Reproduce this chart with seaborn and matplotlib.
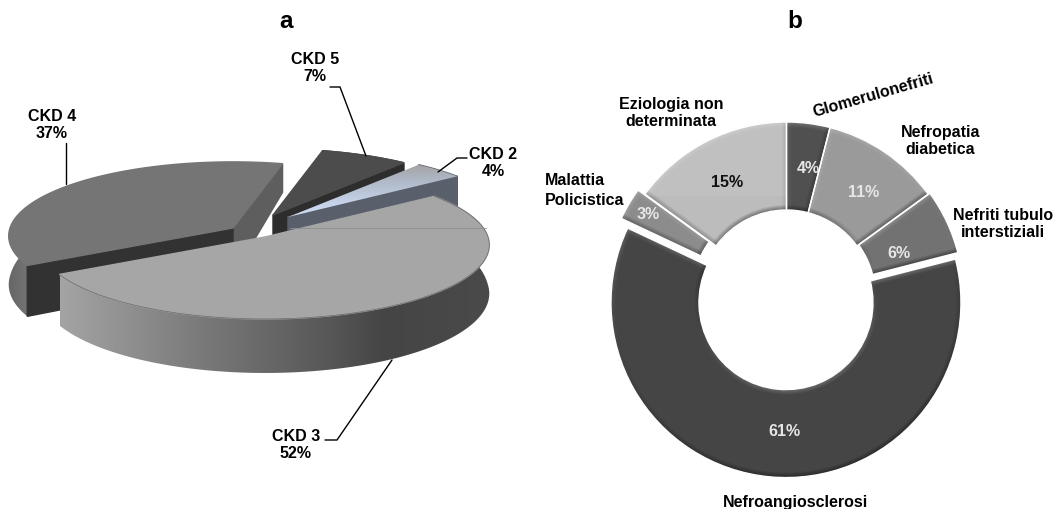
import numpy as np
import matplotlib
matplotlib.use("Agg")
import matplotlib.pyplot as plt
from matplotlib.collections import PolyCollection
from matplotlib.patches import Polygon, Rectangle
import seaborn as sns

# CKD stage distribution, in clockwise order
ckd_labels = ["CKD 5\n7%", "CKD 2\n4%", "CKD 3\n52%", "CKD 4\n37%"]
ckd_values = [7, 4, 52, 37]

# Renal disease aetiology, clockwise from twelve o'clock
cause_labels = ["Glomerulonefriti", "Nefropatia\ndiabetica", "Nefriti tubulo\ninterstiziali",
                "Nefroangiosclerosi", "Malattia\nPolicistica", "Eziologia non\ndeterminata"]
cause_values = [4, 11, 6, 61, 3, 15]
cause_colors = ["#505050", "#9a9a9a", "#727272", "#454545", "#8c8c8c", "#bcbcbc"]
cause_explode = [0, 0, 2, 5.6, 8, 0]
cause_text = ["#e6e6e6", "#e6e6e6", "#e6e6e6", "#e6e6e6", "#e6e6e6", "#111111"]
cause_pct_pos = [(808, 168), (864, 192), (899, 254), (784, 432), (648, 214), (727, 182)]

W, H = 1054, 509
sns.set_theme(style="white")
plt.rcParams["font.family"] = ["Liberation Sans", "DejaVu Sans"]
plt.rcParams["font.weight"] = "bold"

fig = plt.figure(figsize=(W / 100, H / 100), dpi=100)
ax = fig.add_axes([0, 0, 1, 1])


def yy(y):
    return H - np.asarray(y, dtype=float)


def gradient(poly, stops, extent, horizontal=False, zorder=1):
    """Paint a grey ramp clipped to a polygon; stops are (position, hex) pairs."""
    pos = np.array([s[0] for s in stops])
    rgb = np.array([matplotlib.colors.to_rgb(s[1]) for s in stops])
    t = np.linspace(pos[0], pos[-1], 256)
    ramp = np.stack([np.interp(t, pos, rgb[:, i]) for i in range(3)], axis=-1)
    img = ramp[np.newaxis, :, :] if horizontal else ramp[:, np.newaxis, :]
    patch = Polygon(poly, closed=True, transform=ax.transData, facecolor="none", edgecolor="none")
    ax.add_patch(patch)
    x0, x1, y0, y1 = extent
    im = ax.imshow(img, extent=(x0, x1, H - y1, H - y0), origin="upper" if not horizontal else "lower",
                   aspect="auto", zorder=zorder, interpolation="bilinear")
    im.set_clip_path(patch)


# --- panel a: exploded perspective pie ---
RX, RY, PERSP = 223.0, 73.2, 0.107
apexes = {"CKD 5": (273, 215), "CKD 2": (288, 217), "CKD 3": (265, 237), "CKD 4": (233, 228)}


def rim(apex, theta):
    th = np.radians(theta)
    u, v = np.cos(th), np.sin(th)
    den = 1 + PERSP * v
    return apex[0] + RX * u / den, apex[1] - RY * v / den


def depth(theta):
    v = np.sin(np.radians(theta))
    return 48 - 20 * v if v > 0 else 48 - 6 * v


def to_xy(points):
    pts = np.array(points, dtype=float)
    pts[:, 1] = H - pts[:, 1]
    return pts


def slice_shapes(apex, t_start, t_end):
    thetas = np.linspace(t_start, t_end, 120)
    arc = [rim(apex, t) for t in thetas]
    top = to_xy([apex] + arc)
    wall = to_xy(arc + [(x, y + depth(t)) for (x, y), t in zip(arc[::-1], thetas[::-1])])
    return thetas, arc, top, wall


def cut_face(apex, theta):
    p = rim(apex, theta)
    return to_xy([apex, p, (p[0], p[1] + depth(theta)), (apex[0], apex[1] + 48)])


edges = 75.8 - np.cumsum([0] + ckd_values) * 3.6
spans = {lab.split("\n")[0]: (edges[i], edges[i + 1]) for i, lab in enumerate(ckd_labels)}

# back slices first so that the large front slice overlaps them
s, e = spans["CKD 5"]
_, _, top, wall = slice_shapes(apexes["CKD 5"], s, e)
ax.add_patch(Polygon(wall, color="#333333", zorder=2))
ax.add_patch(Polygon(cut_face(apexes["CKD 5"], e), color="#2d2d2d", zorder=2))
ax.add_patch(Polygon(top, color="#4c4c4c", zorder=2))

s, e = spans["CKD 2"]
_, _, top, wall = slice_shapes(apexes["CKD 2"], s, e)
ax.add_patch(Polygon(wall, color="#565b66", zorder=3))
ax.add_patch(Polygon(cut_face(apexes["CKD 2"], e), color="#5a606b", zorder=3))
gradient(top, [(0, "#a3a3a3"), (0.25, "#aeb6c4"), (0.7, "#c5d3ea"), (1, "#d2ddf0")], (280, 460, 165, 220), zorder=3)

s, e = spans["CKD 4"]
_, _, top, wall = slice_shapes(apexes["CKD 4"], s, e)
gradient(wall, [(0, "#666666"), (1, "#7c7c7c")], (8, 40, 230, 320), horizontal=True, zorder=4)
ax.add_patch(Polygon(cut_face(apexes["CKD 4"], e), color="#5e5e5e", zorder=4))
ax.add_patch(Polygon(cut_face(apexes["CKD 4"], s), color="#323232", zorder=4))
ax.add_patch(Polygon(top, color="#757575", zorder=4))

s, e = spans["CKD 3"]
_, arc, top, wall = slice_shapes(apexes["CKD 3"], s, e)
gradient(wall, [(60, "#a4a4a4"), (200, "#7a7a7a"), (330, "#575757"), (385, "#454545"), (490, "#4a4a4a")],
         (60, 490, 190, 380), horizontal=True, zorder=5)
ax.add_patch(Polygon(top, color="#a6a6a6", zorder=6))
arc_xy = to_xy(arc)
ax.plot(arc_xy[:, 0], arc_xy[:, 1], color="#6a6a6a", lw=0.5, zorder=6)
ax.plot([290, 486], yy([228, 228]), color="#8e8e8e", lw=0.6, zorder=6)

# leader lines
leaders = [([65.5, 65.5], [143, 184]),
           ([330, 340, 366], [87, 87, 156]),
           ([467, 457, 438], [158, 158, 172]),
           ([325, 337, 392], [440, 440, 360])]
for lx, ly in leaders:
    ax.plot(lx, yy(ly), color="black", lw=1.0, zorder=7, solid_joinstyle="miter")

ckd_text_pos = [(315, 68), (493, 163), (296, 445), (52, 125)]
for lab, (tx, ty) in zip(ckd_labels, ckd_text_pos):
    ax.text(tx, H - ty, lab, ha="center", va="center", fontsize=11.5, color="black", zorder=8)

# --- panel b: exploded doughnut ---
wedges, _, pct = ax.pie(cause_values, colors=cause_colors, explode=cause_explode,
                        startangle=90, counterclock=False, radius=175, center=(786.5, H - 297),
                        wedgeprops=dict(width=88, edgecolor="white", linewidth=1.3),
                        autopct=lambda p: f"{p:.0f}%", pctdistance=0.745,
                        textprops=dict(fontsize=11.5, fontweight="bold"))
for w in wedges:
    w.set_zorder(2)
    w.set_edgecolor("none")
for txt, col, (px, py) in zip(pct, cause_text, cause_pct_pos):
    txt.set_color(col)
    txt.set_zorder(9)
    txt.set_position((px, H - py))

LIGHT = np.array([-0.3, 0.954])


def bevel(w, size=5, dark=0.42, light=0.2):
    """Shade the rim of one ring segment as if lit from the upper left."""
    cx, cy = w.center
    r, r_in, t1, t2 = w.r, w.r - w.width, w.theta1, w.theta2
    polys, cols = [], []

    def tint(level, fade):
        if level > 0:
            return (1, 1, 1, min(level * light * fade, 1))
        return (0, 0, 0, min(-level * dark * fade, 1))

    for d in range(size):
        fade = 1 - d / size
        nseg = max(int((t2 - t1) / 3), 2)
        ang = np.linspace(t1, t2, nseg + 1)
        for a0, a1 in zip(ang[:-1], ang[1:]):
            am = np.radians((a0 + a1) / 2)
            c0, s0 = np.cos(np.radians(a0)), np.sin(np.radians(a0))
            c1, s1 = np.cos(np.radians(a1)), np.sin(np.radians(a1))
            lit = LIGHT @ np.array([np.cos(am), np.sin(am)])
            for r_a, r_b, sign in ((r - d, r - d - 1, 1), (r_in + d, r_in + d + 1, -1)):
                polys.append([(cx + r_a * c0, cy + r_a * s0), (cx + r_a * c1, cy + r_a * s1),
                              (cx + r_b * c1, cy + r_b * s1), (cx + r_b * c0, cy + r_b * s0)])
                cols.append(tint(sign * lit, fade))
        for t, normal in ((t1, t1 - 90), (t2, t2 + 90)):
            c, sn = np.cos(np.radians(t)), np.sin(np.radians(t))
            nx, ny = np.cos(np.radians(normal)), np.sin(np.radians(normal))
            polys.append([(cx + r_in * c - d * nx, cy + r_in * sn - d * ny),
                          (cx + r * c - d * nx, cy + r * sn - d * ny),
                          (cx + r * c - (d + 1) * nx, cy + r * sn - (d + 1) * ny),
                          (cx + r_in * c - (d + 1) * nx, cy + r_in * sn - (d + 1) * ny)])
            cols.append(tint(LIGHT @ np.array([nx, ny]), fade))
    coll = PolyCollection(polys, facecolors=cols, edgecolors="none", linewidths=0, zorder=3)
    coll.set_clip_path(w)
    ax.add_collection(coll)


for w in wedges:
    bevel(w)

# thin white separators are drawn over the shading
for w in wedges:
    w_outline = matplotlib.patches.Wedge(w.center, w.r, w.theta1, w.theta2, width=w.width,
                                         facecolor="none", edgecolor="white", linewidth=1.0, zorder=4)
    ax.add_patch(w_outline)

# soft gloss band on the light segment
band = Rectangle((600, H - 196), 370, 96, facecolor="white", alpha=0.07, edgecolor="none", zorder=3)
ax.add_patch(band)
band.set_clip_path(wedges[5])

cause_text_pos = [(671, 113), (940.5, 141), (1003, 224), (796, 502)]
for idx, (tx, ty) in zip([5, 1, 2, 3], cause_text_pos):
    ax.text(tx, H - ty, cause_labels[idx], ha="center", va="center", fontsize=11.5, color="black", zorder=8)
ax.text(545, H - 190.5, cause_labels[4], ha="left", va="center", fontsize=11.5, color="black",
        linespacing=1.45, zorder=8)
ax.text(873, H - 95, cause_labels[0], ha="center", va="center", rotation=16,
        rotation_mode="anchor", fontsize=11.5, color="black", zorder=8)

# panel letters
ax.text(286, H - 28, "a", ha="center", va="baseline", fontsize=17.5, color="black")
ax.text(795, H - 28, "b", ha="center", va="baseline", fontsize=17.5, color="black")

ax.set_xlim(0, W)
ax.set_ylim(0, H)
ax.set_aspect("auto")
ax.axis("off")
fig.savefig("out.png", dpi=100, facecolor="white")
